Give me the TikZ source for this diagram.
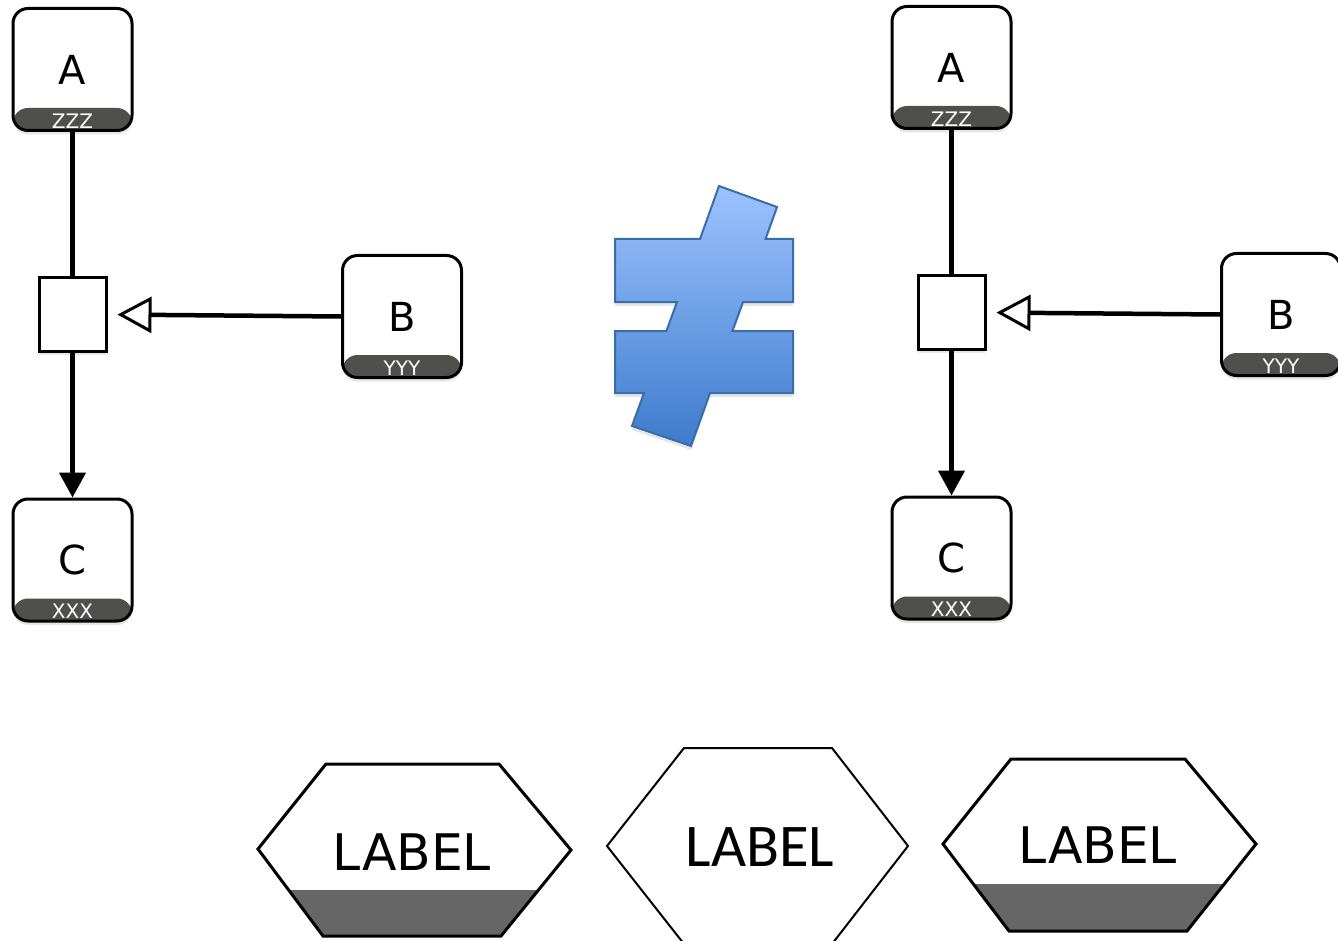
\documentclass[tikz,border=0pt]{standalone}
\usepackage{fontspec}
\setmainfont{DejaVu Sans}
\newfontfamily\calibrifont{Carlito}
\usetikzlibrary{arrows.meta,shadows}

\definecolor{bandgray}{HTML}{4F4F4B}
\definecolor{hexgray}{HTML}{666666}
\definecolor{neqtop}{HTML}{9CC3FF}
\definecolor{neqbottom}{HTML}{3E7BCC}
\definecolor{neqline}{HTML}{3A6EAA}

\tikzset{
  card/.style={draw, line width=1.5pt, rounded corners=7.5pt, fill=white,
    minimum width=59.5pt, minimum height=61pt, inner sep=0pt,
    font=\fontsize{20}{20}\selectfont,
    drop shadow={shadow xshift=0pt, shadow yshift=-2pt, opacity=0.2},
    path picture={\fill[bandgray] (path picture bounding box.south west)
      rectangle ([yshift=11.25pt]path picture bounding box.south east);}},
  code/.style={text=white, font=\fontsize{10}{10}\selectfont, inner sep=0pt},
  junction/.style={draw, line width=1.5pt, fill=white, minimum width=33.5pt,
    minimum height=37pt, inner sep=0pt,
    drop shadow={shadow xshift=0pt, shadow yshift=-1.5pt, opacity=0.2}},
  link/.style={line width=2.25pt},
  hexline/.style={line width=1.5pt},
}

\begin{document}
\begin{tikzpicture}[x=0.5pt, y=-0.5pt]
  \useasboundingbox (0,0) rectangle (1338,941);
  % Draw the two small diagrams
  \foreach \dx/\dy/\s in {0/0/l, 879/-2/r} {
    \begin{scope}[shift={(\dx,\dy)}]
      \node[card] (A-\s) at (72.5,69.5) {A};
      \node[card] (B-\s) at (402,316.5) {B};
      \node[card] (C-\s) at (72.5,560) {C};
      \node[junction] (sq-\s) at (72.5,314.5) {};
      \node[code] (zA-\s) at ([yshift=5.5pt]A-\s.south) {ZZZ};
      \node[code] (zB-\s) at ([yshift=5.5pt]B-\s.south) {YYY};
      \node[code] (zC-\s) at ([yshift=5.5pt]C-\s.south) {XXX};
      % Draw connectors
      \draw[link] (A-\s.south) -- (sq-\s.north);
      \draw[link, -{Triangle[length=12.5pt, width=13pt]}] (sq-\s.south) -- (C-\s.north);
      \draw[link, -{Triangle[open, length=17pt, width=18pt, line width=1.5pt]},
        shorten >=5pt] (B-\s.west) -- (sq-\s.east);
    \end{scope}
  }
  % Draw not-equal sign
  \shade[top color=neqtop, bottom color=neqbottom, draw=neqline, line width=1pt,
    drop shadow={shadow xshift=0pt, shadow yshift=-2pt, opacity=0.2}]
    (719,186) -- (777,207) -- (765.5,239) -- (793,239) -- (793,302) -- (743,302)
    -- (732.4,331) -- (793,331) -- (793,393) -- (710,393) -- (691,446) -- (632,426)
    -- (644,393) -- (615,393) -- (615,331) -- (666.4,331) -- (677,302) -- (615,302)
    -- (615,239) -- (700,239) -- cycle;
  % Draw hexagons
  \begin{scope}
    \clip (258,849) -- (326,764) -- (499,764) -- (571,850) -- (501,936) -- (323,936) -- cycle;
    \fill[hexgray] (250,890) rectangle (580,940);
  \end{scope}
  \draw[hexline] (258,849) -- (326,764) -- (499,764) -- (571,850) -- (501,936) -- (323,936) -- cycle;
  \node[font=\fontsize{25.2}{25.2}\selectfont] (hex1) at (412,852) {LABEL};
  \draw[line width=1pt] (607,846) -- (684,748) -- (832,748) -- (908,846) -- (832,944) -- (684,944) -- cycle;
  \node[font=\calibrifont\fontsize{30.3}{30.3}\selectfont] (hex2) at (760,847) {LABEL};
  \begin{scope}
    \clip (943,844) -- (1011,759) -- (1185,759) -- (1256,844) -- (1187,931) -- (1009,931) -- cycle;
    \fill[hexgray] (935,884) rectangle (1265,935);
  \end{scope}
  \draw[hexline] (943,844) -- (1011,759) -- (1185,759) -- (1256,844) -- (1187,931) -- (1009,931) -- cycle;
  \node[font=\fontsize{25.2}{25.2}\selectfont] (hex3) at (1098,845) {LABEL};
\end{tikzpicture}
\end{document}
